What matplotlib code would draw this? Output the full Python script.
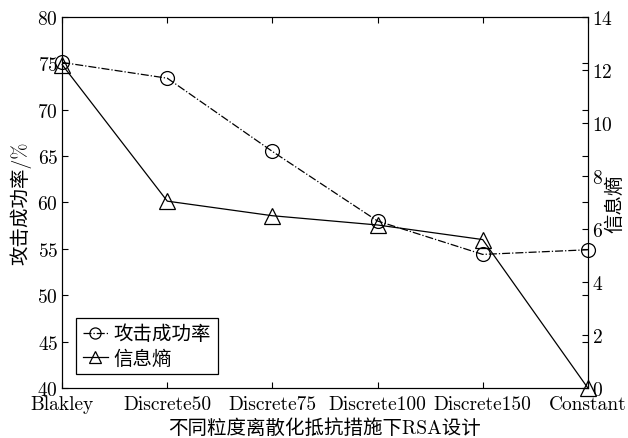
import matplotlib
matplotlib.use('Agg')
import matplotlib.pyplot as plt

plt.rcParams['font.family'] = ['cmr10', 'Noto Sans CJK SC', 'DejaVu Serif']
plt.rcParams['axes.formatter.use_mathtext'] = True
plt.rcParams['font.size'] = 14

categories = ['Blakley', 'Discrete50', 'Discrete75', 'Discrete100', 'Discrete150', 'Constant']
success_rate = [75.1, 73.4, 65.5, 58.0, 54.4, 54.9]
entropy = [12.2, 7.05, 6.5, 6.15, 5.6, 0.0]

x = list(range(len(categories)))

fig, ax = plt.subplots(figsize=(6.28, 4.39), dpi=100)
fig.subplots_adjust(left=0.099, right=0.936, top=0.959, bottom=0.114)

l1, = ax.plot(x, success_rate, color='black', linestyle='-.', linewidth=0.9,
              marker='o', markersize=10, markerfacecolor='none', markeredgewidth=0.9)
ax.set_xlim(0, 5)
ax.set_ylim(40, 80)
ax.set_xticks(x)
ax.set_xticklabels(categories)
ax.set_yticks(range(40, 81, 5))
ax.set_ylabel('攻击成功率/%', labelpad=4)
ax.set_xlabel('不同粒度离散化抵抗措施下RSA设计', labelpad=4)

ax2 = ax.twinx()
l2, = ax2.plot(x, entropy, color='black', linestyle='-', linewidth=0.9,
               marker='^', markersize=11, markerfacecolor='none', markeredgewidth=0.9)
ax2.set_ylim(0, 14)
ax2.set_yticks(range(0, 15, 2))
ax2.tick_params(direction='in', length=4, pad=3)
ax2.set_ylabel('信息熵', labelpad=-5)

ax.tick_params(direction='in', top=True, right=True, labelright=False, length=4, pad=3)
ax.tick_params(axis='x', pad=5)

for l in (l1, l2):
    l.set_clip_on(False)

leg = ax.legend([l1, l2], ['攻击成功率', '信息熵'], loc='lower left',
                fancybox=False, edgecolor='black', framealpha=1,
                handlelength=1.3, handletextpad=0.3, borderaxespad=0.7,
                borderpad=0.35, labelspacing=0.3, markerscale=0.8)
leg.get_frame().set_linewidth(0.9)

fig.savefig('out.png', dpi=100)
